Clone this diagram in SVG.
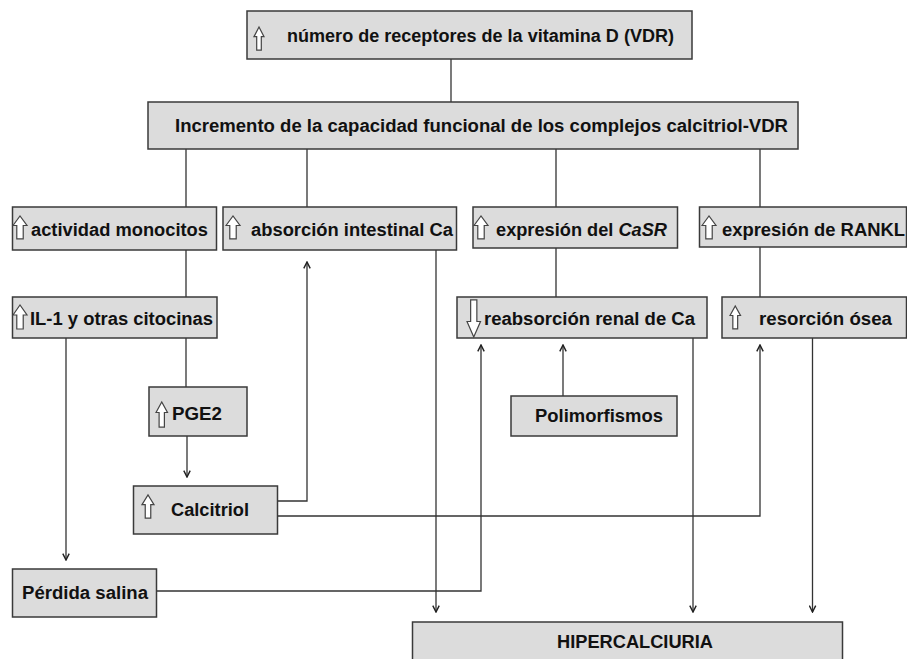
<svg xmlns="http://www.w3.org/2000/svg" xmlns:xlink="http://www.w3.org/1999/xlink" width="907" height="659" viewBox="0 0 907 659">
<style>
.box{fill:#dcdcdc;stroke:#3a3a3a;stroke-width:1.5}
.t{font-family:"Liberation Sans",Arial,sans-serif;font-weight:bold;font-size:18px;fill:#111}
.c{fill:none;stroke:#333;stroke-width:1.3}
.a{marker-end:url(#ah)}
.ic{fill:#fff;stroke:#444;stroke-width:1.2;vector-effect:non-scaling-stroke}
</style>
<defs>
<marker id="ah" viewBox="0 0 10 10" refX="9" refY="5" markerWidth="8" markerHeight="8" markerUnits="userSpaceOnUse" orient="auto">
<path d="M1,1 L9,5 L1,9" fill="none" stroke="#222" stroke-width="1.8"/>
</marker>
<path id="up" class="ic" d="M0,10 L5,0 L10,10 L7.3,10 L7.3,24 L2.7,24 L2.7,10 Z"/>
</defs>
<rect width="907" height="659" fill="#fff"/>

<g id="connectors">
<path class="c" d="M451,59 V102"/>
<path class="c" d="M186,149 V207 M307,149 V207 M556,149 V207 M760,149 V207"/>
<path class="c" d="M186,250 V297 M556,248 V297 M760,247 V297"/>
<path class="c" d="M186,338 V387"/>
<path class="c a" d="M187,436 V477"/>
<path class="c a" d="M66,338 V560"/>
<path class="c a" d="M277,501 H307 V262"/>
<path class="c a" d="M277,516 H760 V345"/>
<path class="c a" d="M157,591 H481 V345"/>
<path class="c a" d="M563,396 V345"/>
<path class="c a" d="M436,250 V612"/>
<path class="c a" d="M693,338 V612"/>
<path class="c a" d="M812.5,338 V612"/>
</g>

<g id="vdr">
<rect class="box" x="247" y="11" width="445" height="48"/>
<use xlink:href="#up" transform="translate(254,27) scale(1,0.96)"/>
<text class="t" x="287" y="42" textLength="387" lengthAdjust="spacingAndGlyphs">número de receptores de la vitamina D (VDR)</text>
</g>
<g id="incremento">
<rect class="box" x="148" y="102" width="650" height="47"/>
<text class="t" x="175" y="132" textLength="613" lengthAdjust="spacingAndGlyphs">Incremento de la capacidad funcional de los complejos calcitriol-VDR</text>
</g>
<g id="monocitos">
<rect class="box" x="12.5" y="207" width="204" height="43"/>
<use xlink:href="#up" transform="translate(13,216) scale(1.4,0.95)"/>
<text class="t" x="31" y="235.5" textLength="177" lengthAdjust="spacingAndGlyphs">actividad monocitos</text>
</g>
<g id="absorcion">
<rect class="box" x="223" y="207" width="233.5" height="43"/>
<use xlink:href="#up" transform="translate(226,216) scale(1.4,0.95)"/>
<text class="t" x="251" y="235.5" textLength="202" lengthAdjust="spacingAndGlyphs">absorción intestinal Ca</text>
</g>
<g id="casr">
<rect class="box" x="473" y="207" width="204.5" height="41"/>
<use xlink:href="#up" transform="translate(474,216) scale(1.4,0.95)"/>
<text class="t" x="496" y="235.5" textLength="171" lengthAdjust="spacingAndGlyphs">expresión del <tspan font-style="italic">CaSR</tspan></text>
</g>
<g id="rankl">
<rect class="box" x="699.5" y="207" width="207" height="40"/>
<use xlink:href="#up" transform="translate(702,216) scale(1.4,0.95)"/>
<text class="t" x="722" y="235.5" textLength="183" lengthAdjust="spacingAndGlyphs">expresión de RANKL</text>
</g>
<g id="il1">
<rect class="box" x="12.5" y="297" width="204.5" height="41"/>
<use xlink:href="#up" transform="translate(13,305) scale(1.4,1)"/>
<text class="t" x="30" y="324.5" textLength="183" lengthAdjust="spacingAndGlyphs">IL-1 y otras citocinas</text>
</g>
<g id="reabsorcion">
<rect class="box" x="457" y="297" width="250" height="41"/>
<use xlink:href="#up" transform="translate(467,337) scale(1.35,-1.55)"/>
<text class="t" x="484" y="324.5" textLength="211" lengthAdjust="spacingAndGlyphs">reabsorción renal de Ca</text>
</g>
<g id="resorcion">
<rect class="box" x="722" y="297" width="184.5" height="41"/>
<use xlink:href="#up" transform="translate(730,306) scale(1.05,0.95)"/>
<text class="t" x="759" y="324.5" textLength="133" lengthAdjust="spacingAndGlyphs">resorción ósea</text>
</g>
<g id="pge2">
<rect class="box" x="149" y="387" width="98" height="49"/>
<use xlink:href="#up" transform="translate(156,402) scale(1.15,1.05)"/>
<text class="t" x="172" y="419.5" textLength="50" lengthAdjust="spacingAndGlyphs">PGE2</text>
</g>
<g id="polimorfismos">
<rect class="box" x="511" y="396" width="166" height="40"/>
<text class="t" x="535" y="421.5" textLength="128" lengthAdjust="spacingAndGlyphs">Polimorfismos</text>
</g>
<g id="calcitriol">
<rect class="box" x="133.5" y="486" width="144" height="48"/>
<use xlink:href="#up" transform="translate(142,495) scale(1.2,0.96)"/>
<text class="t" x="171" y="516" textLength="78" lengthAdjust="spacingAndGlyphs">Calcitriol</text>
</g>
<g id="perdida">
<rect class="box" x="12.5" y="569" width="144" height="48"/>
<text class="t" x="22" y="599" textLength="126" lengthAdjust="spacingAndGlyphs">Pérdida salina</text>
</g>
<g id="hipercalciuria">
<rect class="box" x="412.5" y="622" width="430" height="45"/>
<text class="t" x="557" y="647.5" textLength="156" lengthAdjust="spacingAndGlyphs">HIPERCALCIURIA</text>
</g>
</svg>
